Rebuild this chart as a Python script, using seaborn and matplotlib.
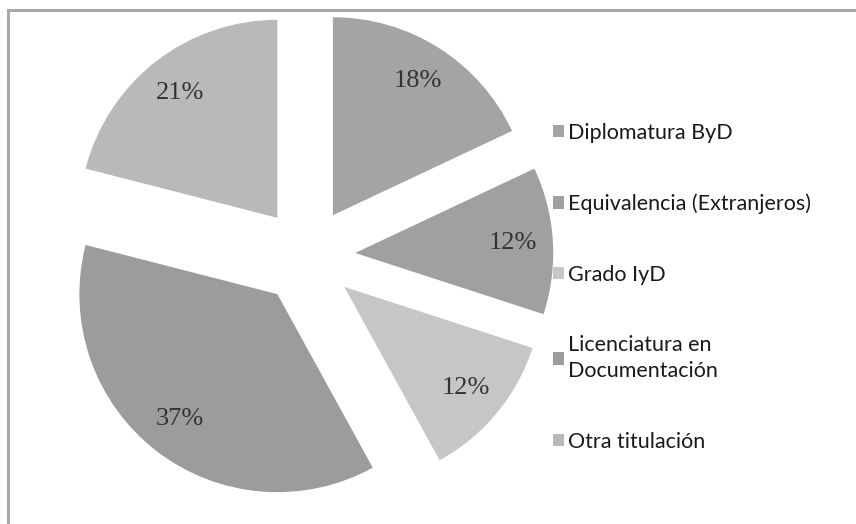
import matplotlib
matplotlib.use("Agg")
import matplotlib.pyplot as plt
from matplotlib.patches import Rectangle
import seaborn as sns

# Titulación de acceso de los estudiantes (porcentaje)
categorias = [
    "Diplomatura ByD",
    "Equivalencia (Extranjeros)",
    "Grado IyD",
    "Licenciatura en\nDocumentación",
    "Otra titulación",
]
porcentajes = [18, 12, 12, 37, 21]
colores = ["#a4a4a4", "#a0a0a0", "#c6c6c6", "#9c9c9c", "#b9b9b9"]

sns.set_theme(style="white")
plt.rcParams["font.family"] = ["Lato", "DejaVu Sans"]

W, H, DPI = 856, 524, 100
fig = plt.figure(figsize=(W / DPI, H / DPI), dpi=DPI)
fig.patch.set_facecolor("white")
ax = fig.add_axes([0, 0, 1, 1])

# pie centre and radius in pixels -> data limits with equal scale on both axes
cx, cy, r = 307, 256, 198

wedges, _, autotexts = ax.pie(
    porcentajes,
    colors=colores,
    startangle=90,
    counterclock=False,
    explode=[0.244] * len(porcentajes),
    autopct=lambda p: f"{p:.0f}%",
    pctdistance=0.8,
    wedgeprops=dict(linewidth=0),
    textprops=dict(fontsize=19, color="#333333",
                   family=["Liberation Serif", "DejaVu Serif"]),
    frame=False,
)
ax.set_xlim(-cx / r, (W - cx) / r)
ax.set_ylim(-(H - cy) / r, cy / r)
ax.set_aspect("auto")
ax.axis("off")

leg = ax.legend(
    wedges, categorias,
    loc="upper left",
    bbox_to_anchor=(553 / W, 1 - 123 / H),
    bbox_transform=fig.transFigure,
    frameon=False,
    prop=dict(size=15.5),
    labelspacing=2.35,
    handlelength=0.5,
    handleheight=0.5,
    handletextpad=0.18,
    borderpad=0,
    borderaxespad=0,
)
for t in leg.get_texts():
    t.set_color("#1a1a1a")
    t.set_linespacing(1.35)

# chart-area frame
fig.patches.append(Rectangle((8 / W, -0.1), 1.2, 1 - 10 / H + 0.1,
                             transform=fig.transFigure, fill=False,
                             edgecolor="#a8a8a8", linewidth=2.2,
                             clip_on=False))

fig.savefig("out.png", dpi=DPI, facecolor="white")
